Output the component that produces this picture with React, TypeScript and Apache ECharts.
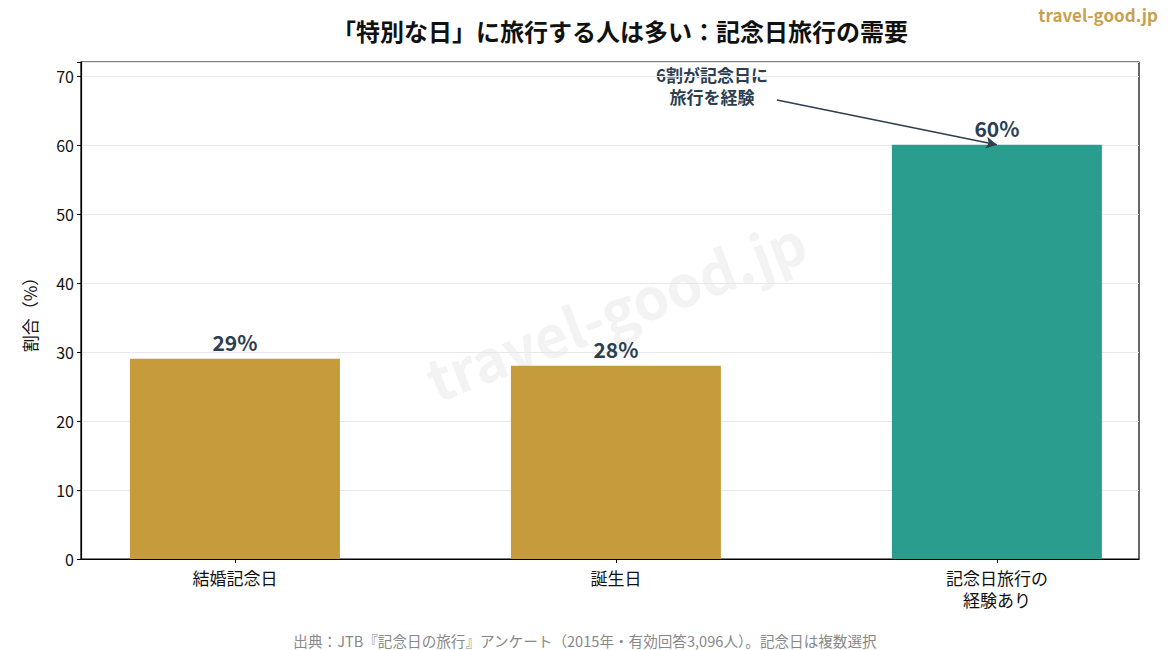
import React, { useEffect, useRef } from "react";
import * as echarts from "echarts";

const categories = ["結婚記念日", "誕生日", "記念日旅行の\n経験あり"];
const values = [29, 28, 60];
const barColors = ["#C69B3C", "#C69B3C", "#2A9D8F"];
const yTicks = [0, 10, 20, 30, 40, 50, 60, 70];
const annotationText = "6割が記念日に\n旅行を経験";
const annotationStart = [1.4226, 66.5];
const annotationTargetIndex = 2;

const FONT = "'Noto Sans CJK JP', 'Noto Sans', sans-serif";

export default function App() {
  const ref = useRef<HTMLDivElement>(null);
  useEffect(() => {
    if (!ref.current) return;
    const chart = echarts.init(ref.current, undefined, { renderer: "svg" });
    const option: any = {
      animation: false,
      backgroundColor: "#ffffff",
      textStyle: { fontFamily: FONT },
      grid: {
        left: 81,
        right: 31,
        top: 62,
        bottom: 91,
        show: true,
        borderColor: "#000",
        borderWidth: 1.2,
        backgroundColor: "transparent",
      },
      xAxis: {
        type: "value",
        min: -0.404,
        max: 2.373,
        splitLine: { show: false },
        axisLine: { show: true, onZero: false, lineStyle: { color: "#000", width: 1.2 } },
        axisTick: { show: true, customValues: [0, 1, 2], length: 4, lineStyle: { color: "#000" } },
        axisLabel: {
          customValues: [0, 1, 2],
          formatter: (v: number) => categories[Math.round(v)] ?? "",
          color: "#111",
          fontSize: 17,
          lineHeight: 22,
          margin: 7,
          fontFamily: FONT,
        },
      },
      yAxis: {
        type: "value",
        min: 0,
        max: 72,
        interval: 10,
        name: "割合（%）",
        nameLocation: "middle",
        nameGap: 43,
        nameTextStyle: { fontSize: 17, color: "#111", fontFamily: FONT },
        axisLine: { show: true, onZero: false, lineStyle: { color: "#000", width: 1.2 } },
        axisTick: { show: true, length: 4, lineStyle: { color: "#000" } },
        axisLabel: {
          color: "#111",
          fontSize: 16,
          margin: 7,
          fontFamily: FONT,
          formatter: (v: number) => (yTicks.includes(v) ? String(v) : ""),
        },
        splitLine: { show: true, lineStyle: { color: "#e8e8e8", width: 1 } },
      },
      series: [
        {
          type: "bar",
          barWidth: 210,
          data: values.map((v, i) => ({
            value: [i, v],
            itemStyle: { color: barColors[i] },
          })),
          label: {
            show: true,
            position: "top",
            distance: 6,
            formatter: (p: any) => `${p.value[1]}%`,
            fontSize: 21,
            fontWeight: "bold",
            color: "#2C3E50",
            fontFamily: FONT,
          },
          markLine: {
            silent: true,
            symbol: ["none", "arrow"],
            symbolSize: [9, 11],
            lineStyle: { color: "#2C3E50", width: 1.5, type: "solid" },
            label: { show: false },
            data: [
              [
                { coord: annotationStart },
                { coord: [annotationTargetIndex, values[annotationTargetIndex]] },
              ],
            ],
          },
        },
      ],
      graphic: [
        {
          type: "text",
          x: 620,
          y: 30,
          style: {
            text: "「特別な日」に旅行する人は多い：記念日旅行の需要",
            fontSize: 24,
            fontWeight: "bold",
            fill: "#111",
            align: "center",
            verticalAlign: "middle",
            fontFamily: FONT,
          },
        },
        {
          type: "text",
          right: 12,
          top: 6,
          style: {
            text: "travel-good.jp",
            fontSize: 17,
            fontWeight: "bold",
            fill: "#C9A04E",
            fontFamily: FONT,
          },
        },
        {
          type: "text",
          x: 615,
          y: 308,
          rotation: (21 * Math.PI) / 180,
          z: -1,
          style: {
            text: "travel-good.jp",
            fontSize: 57,
            fontWeight: "bold",
            fill: "rgba(200,200,200,0.22)",
            align: "center",
            verticalAlign: "middle",
            fontFamily: FONT,
          },
        },
        {
          type: "text",
          x: 712,
          y: 85,
          style: {
            text: annotationText,
            fontSize: 17,
            fontWeight: "bold",
            fill: "#2C3E50",
            align: "center",
            verticalAlign: "middle",
            lineHeight: 22,
            fontFamily: FONT,
          },
        },
        {
          type: "text",
          x: 585,
          y: 640,
          style: {
            text: "出典：JTB『記念日の旅行』アンケート（2015年・有効回答3,096人）。記念日は複数選択",
            fontSize: 14.6,
            fill: "#888",
            align: "center",
            verticalAlign: "middle",
            fontFamily: FONT,
          },
        },
      ],
    };
    chart.setOption(option);
    return () => chart.dispose();
  }, []);
  return (
    <div
      ref={ref}
      style={{ position: "fixed", left: 0, top: 0, width: 1170, height: 650 }}
    />
  );
}
